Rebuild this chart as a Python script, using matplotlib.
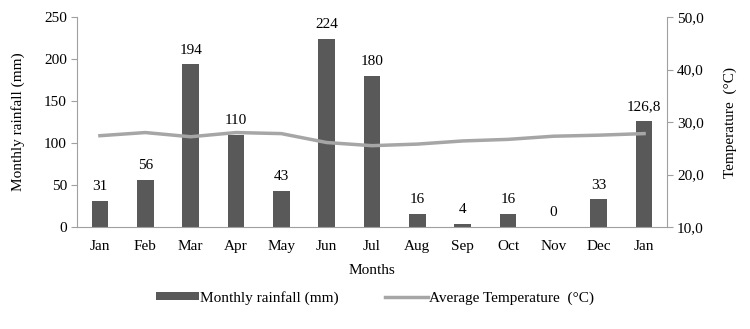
import matplotlib.pyplot as plt
import numpy as np

plt.rcParams["font.family"] = ["Liberation Serif", "DejaVu Serif"]

months = ["Jan", "Feb", "Mar", "Apr", "May", "Jun", "Jul", "Aug", "Sep", "Oct", "Nov", "Dec", "Jan"]
rainfall = [31, 56, 194, 110, 43, 224, 180, 16, 4, 16, 0, 33, 126.8]
rain_labels = ["31", "56", "194", "110", "43", "224", "180", "16", "4", "16", "0", "33", "126,8"]
temperature = [27.4, 28.0, 27.2, 28.0, 27.8, 26.1, 25.5, 25.8, 26.4, 26.7, 27.3, 27.5, 27.8]

BAR_COLOR = "#595959"
LINE_COLOR = "#a6a6a6"
AXIS_COLOR = "#a0a0a0"

fig = plt.figure(figsize=(7.5, 3.29), dpi=100)
ax = fig.add_axes([0.103, 0.31, 0.786, 0.638])
ax2 = ax.twinx()

x = np.arange(len(months))
ax.bar(x, rainfall, width=0.37, color=BAR_COLOR, label="Monthly rainfall (mm)", zorder=2)
for xi, val, lab in zip(x, rainfall, rain_labels):
    ax.text(xi, val + 9, lab, ha="center", va="bottom", fontsize=11)

ax2.plot(x, temperature, color=LINE_COLOR, linewidth=2.5, label="Average Temperature  (°C)")

ax.set_xlim(-0.5, len(months) - 0.5)
ax.set_ylim(0, 250)
ax.set_yticks(range(0, 251, 50))
ax2.set_ylim(10, 50)
ax2.set_yticks(range(10, 51, 10))
ax2.set_yticklabels([f"{v},0" for v in range(10, 51, 10)])

ax.set_xticks(x)
ax.set_xticklabels(months)
ax.set_xlabel("Months", fontsize=11, labelpad=8)
ax.set_ylabel("Monthly rainfall (mm)", fontsize=11, labelpad=14)
ax2.set_ylabel("Temperature  (°C)", fontsize=11, labelpad=14)

for a in (ax, ax2):
    a.spines["top"].set_visible(False)
    for s in ("left", "right", "bottom"):
        a.spines[s].set_color(AXIS_COLOR)
    a.tick_params(colors=AXIS_COLOR, labelcolor="black", labelsize=11, length=4)
ax.tick_params(axis="x", length=0, pad=9)
ax.spines["right"].set_visible(False)
ax2.spines["left"].set_visible(False)
ax2.spines["bottom"].set_visible(False)

h1, l1 = ax.get_legend_handles_labels()
h2, l2 = ax2.get_legend_handles_labels()
fig.legend(h1 + h2, l1 + l2, loc="center", bbox_to_anchor=(0.5, 0.095), ncol=2,
           frameon=False, fontsize=11, handlelength=2.8, handleheight=0.5,
           handletextpad=0.1, columnspacing=3)

fig.savefig("out.png", dpi=100)
